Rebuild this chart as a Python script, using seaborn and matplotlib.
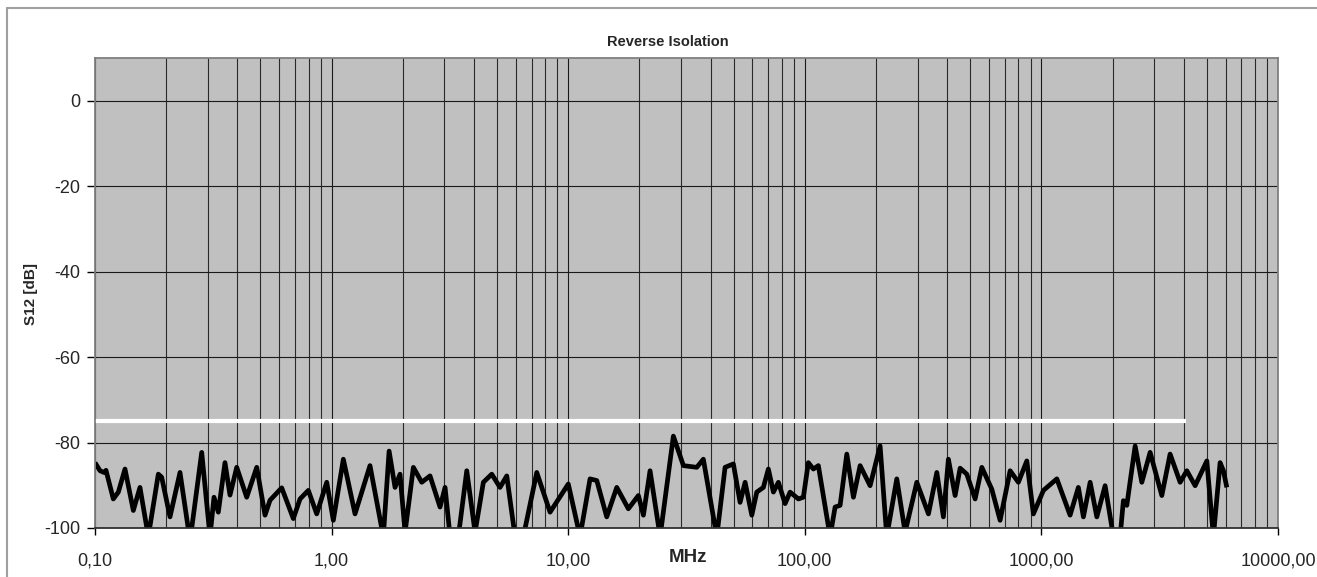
import numpy as np
import pandas as pd
import matplotlib
matplotlib.use("Agg")
import matplotlib.pyplot as plt
from matplotlib.ticker import FixedLocator, LogLocator, NullFormatter, FuncFormatter
from matplotlib.lines import Line2D
import seaborn as sns

# ---------------- data ----------------
freq_mhz = [0.1000, 0.1050, 0.1091, 0.1113, 0.1195, 0.1255, 0.1339, 0.1452, 0.1549, 0.1680,
            0.1852, 0.1913, 0.2075, 0.2287, 0.2522, 0.2825, 0.3062, 0.3184, 0.3320, 0.3543,
            0.3720, 0.3972, 0.4377, 0.4826, 0.5231, 0.5491, 0.6154, 0.6889, 0.7356, 0.7973,
            0.8652, 0.9537, 1.017, 1.121, 1.256, 1.453, 1.654, 1.75, 1.854, 1.946,
            2.044, 2.216, 2.404, 2.606, 2.873, 3.017, 3.168, 3.433, 3.726, 4.040,
            4.379, 4.752, 5.150, 5.500, 5.962, 6.463, 7.365, 8.381, 10.01, 11.22,
            12.37, 13.21, 14.55, 16.04, 17.96, 19.80, 20.79, 22.18, 24.46, 27.83,
            30.68, 34.95, 37.26, 42.46, 46.03, 49.90, 53.27, 55.94, 59.70, 62.66,
            66.82, 70.15, 73.66, 77.33, 82.54, 86.66, 93.94, 98.63, 103.5, 108.7,
            114.1, 127.9, 134.3, 141.0, 150.5, 160.5, 171.3, 188.8, 208.1, 222.0,
            244.8, 265.4, 297.4, 333.1, 361.4, 385.3, 404.5, 431.8, 453.4, 483.9,
            524.7, 560.0, 616.9, 669.1, 737.6, 799.3, 867.7, 925.1, 1020, 1162,
            1322, 1433, 1505, 1607, 1715, 1859, 2015, 2151, 2221, 2296,
            2490, 2657, 2881, 3228, 3499, 3858, 4118, 4464, 5003, 5333,
            5692, 5879, 6076]
s12_db = [-84.7, -86.6, -87.0, -86.5, -93.2, -91.6, -86.2, -95.9, -90.5, -102,
          -87.4, -88.1, -97.4, -87.0, -103, -82.3, -102, -92.8, -96.3, -84.7,
          -92.3, -85.8, -92.8, -85.8, -97.0, -93.5, -90.6, -97.8, -93.2, -91.2,
          -96.7, -89.3, -98.2, -83.9, -96.7, -85.4, -102, -82.0, -90.5, -87.4,
          -101, -85.8, -89.3, -87.8, -95.1, -90.5, -102, -102, -86.6, -101,
          -89.3, -87.4, -90.5, -87.8, -102, -102, -87.0, -96.3, -89.7, -102,
          -88.5, -88.9, -97.4, -90.5, -95.5, -92.4, -97.0, -86.6, -102, -78.5,
          -85.4, -85.8, -83.9, -102, -85.8, -85.0, -94.0, -89.3, -97.0, -91.6,
          -90.5, -86.2, -91.6, -89.3, -94.3, -91.6, -93.2, -92.8, -84.7, -86.2,
          -85.4, -102, -95.1, -94.7, -82.7, -92.8, -85.4, -90.1, -80.8, -102,
          -88.5, -101, -89.3, -96.7, -87.0, -97.4, -83.9, -92.4, -86.0, -87.4,
          -93.2, -85.8, -90.9, -98.2, -86.6, -89.3, -84.3, -96.7, -91.2, -88.5,
          -97.0, -90.5, -97.4, -89.3, -97.4, -90.1, -102, -102, -93.6, -94.7,
          -80.8, -89.3, -82.3, -92.4, -82.7, -89.3, -86.6, -90.1, -84.3, -102,
          -84.7, -86.6, -90.5]

limit_freq = [0.1, 4100]
limit_db = [-75, -75]

x_ticks = [0.1, 1, 10, 100, 1000, 10000]
x_tick_labels = ["0,10", "1,00", "10,00", "100,00", "1000,00", "10000,00"]
y_ticks = [0, -20, -40, -60, -80, -100]

title = "Reverse Isolation"
x_label = "MHz"
y_label = "S12 [dB]"

# ---------------- style ----------------
sns.set_style("white")
plt.rcParams["font.family"] = ["Liberation Sans", "DejaVu Sans"]

W, H = 1317, 577
fig = plt.figure(figsize=(W / 100, H / 100), dpi=100)
fig.patch.set_facecolor("white")
ax = fig.add_axes([95 / W, (H - 528) / H, (1278 - 95) / W, (528 - 58) / H])
ax.set_facecolor("#C0C0C0")

df = pd.DataFrame({"f": freq_mhz, "db": s12_db})
df_lim = pd.DataFrame({"f": limit_freq, "db": limit_db})

ax.set_xscale("log")
ax.set_xlim(0.1, 10000)
ax.set_ylim(-100, 10)

# grid
ax.xaxis.set_major_locator(FixedLocator(x_ticks))
ax.xaxis.set_minor_locator(LogLocator(base=10, subs=np.arange(2, 10), numticks=50))
ax.xaxis.set_minor_formatter(NullFormatter())
ax.set_xticklabels(x_tick_labels)
ax.yaxis.set_major_locator(FixedLocator(y_ticks))
ax.yaxis.set_major_formatter(FuncFormatter(lambda v, p: f"{int(v)}"))
ax.grid(True, which="major", axis="both", color="#1a1a1a", linewidth=0.8)
ax.grid(True, which="minor", axis="x", color="#2a2a2a", linewidth=0.8)
ax.set_axisbelow(True)

sns.lineplot(data=df_lim, x="f", y="db", ax=ax, color="white", linewidth=3.0,
             estimator=None, sort=False, legend=False)
sns.lineplot(data=df, x="f", y="db", ax=ax, color="black", linewidth=3.4,
             estimator=None, sort=False, legend=False)
for ln in ax.get_lines():
    ln.set_solid_joinstyle("round")
    ln.set_solid_capstyle("butt")

ax.set_xlabel("")
ax.set_ylabel("")

ax.tick_params(axis="x", which="major", direction="out", length=5, width=1,
               color="black", labelsize=13, pad=13)
ax.tick_params(axis="x", which="minor", length=0)
ax.tick_params(axis="y", which="major", direction="out", length=5.5, width=1,
               color="black", labelsize=13, pad=5)
ax.tick_params(bottom=True, left=True)

for side, sp in ax.spines.items():
    sp.set_color("#808080")
    sp.set_linewidth(1.3)
ax.spines["bottom"].set_color("#303030")

fig.text(668 / W, 1 - 42 / H, title, ha="center", va="center",
         fontsize=10.5, fontweight="bold")
fig.text(688 / W, 1 - 557 / H, x_label, ha="center", va="center",
         fontsize=13.5, fontweight="bold")
fig.text(31 / W, 1 - 294 / H, y_label, ha="center", va="center", rotation=90,
         fontsize=11, fontweight="bold")

# chart-area border (top and left edges)
fig.add_artist(Line2D([7 / W, 1.0], [1 - 8 / H, 1 - 8 / H], transform=fig.transFigure,
                      color="#a0a0a0", linewidth=1.5))
fig.add_artist(Line2D([7 / W, 7 / W], [0.0, 1 - 8 / H], transform=fig.transFigure,
                      color="#a0a0a0", linewidth=1.5))

fig.savefig("out.png", dpi=100, facecolor="white")
